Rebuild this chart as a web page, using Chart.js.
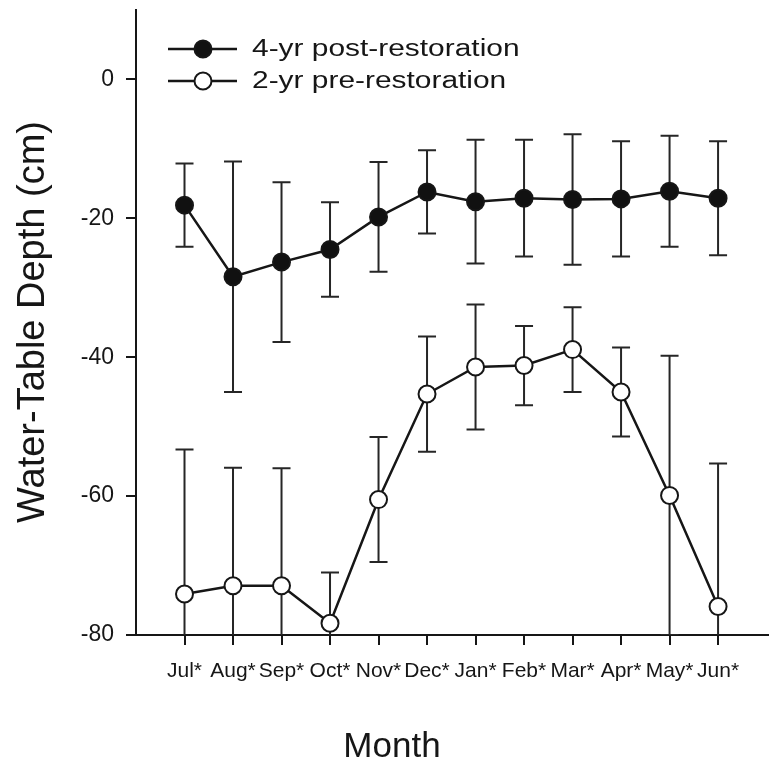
<!DOCTYPE html>
<html>
<head>
<meta charset="utf-8">
<script src="https://cdn.jsdelivr.net/npm/chart.js@4.4.1/dist/chart.umd.min.js"></script>
<style>
  html, body { margin: 0; padding: 0; background: #fff; }
  #wrap { width: 769px; height: 763px; }
</style>
</head>
<body>
<div id="wrap"><canvas id="chart" width="769" height="763"></canvas></div>
<script>
// month categories (x positions are 1..12 on a linear axis)
const months = ['Jul*', 'Aug*', 'Sep*', 'Oct*', 'Nov*', 'Dec*', 'Jan*', 'Feb*', 'Mar*', 'Apr*', 'May*', 'Jun*'];

// 4-yr post-restoration: mean and +/- error
const postMean = [-18.1, -28.4, -26.3, -24.5, -19.8, -16.2, -17.6, -17.1, -17.3, -17.2, -16.1, -17.1];
const postErr  = [6.0, 16.6, 11.5, 6.8, 7.9, 6.0, 8.9, 8.4, 9.4, 8.3, 8.0, 8.2];

// 2-yr pre-restoration: mean and +/- error
const preMean = [-74.1, -72.9, -72.9, -78.3, -60.5, -45.3, -41.4, -41.2, -38.9, -45.0, -59.9, -75.9];
const preErr  = [20.8, 17.0, 16.9, 7.3, 9.0, 8.3, 9.0, 5.7, 6.1, 6.4, 20.1, 20.6];

const yTicks = [0, -20, -40, -60, -80];

const ink = '#161616';
const font = 'Arial, "Liberation Sans", Helvetica, sans-serif';

const toPoints = (arr) => arr.map((v, i) => ({ x: i + 1, y: v }));

// vertical error bars with caps, drawn under lines and points
const errorBars = {
    id: 'errorBars',
    beforeDatasetsDraw(chart) {
        const { ctx, chartArea } = chart;
        const xs = chart.scales.x, ys = chart.scales.y;
        ctx.save();
        ctx.beginPath();
        ctx.rect(chartArea.left, chartArea.top, chartArea.width, chartArea.height);
        ctx.clip();
        ctx.strokeStyle = '#262626';
        ctx.lineWidth = 2;
        chart.data.datasets.forEach(ds => {
            ds.data.forEach((p, i) => {
                const e = ds.errors[i];
                const px = xs.getPixelForValue(p.x);
                const top = ys.getPixelForValue(p.y + e);
                const bot = ys.getPixelForValue(p.y - e);
                ctx.beginPath();
                ctx.moveTo(px, top); ctx.lineTo(px, bot);
                ctx.moveTo(px - 9, top); ctx.lineTo(px + 9, top);
                ctx.moveTo(px - 9, bot); ctx.lineTo(px + 9, bot);
                ctx.stroke();
            });
        });
        ctx.restore();
    }
};

// axis titles and the in-plot legend
const labels = {
    id: 'labels',
    afterDraw(chart) {
        const ctx = chart.ctx;
        ctx.save();
        ctx.fillStyle = ink;

        // y title
        ctx.save();
        ctx.translate(44, 322);
        ctx.rotate(-Math.PI / 2);
        ctx.font = '38px ' + font;
        ctx.textAlign = 'center';
        ctx.textBaseline = 'alphabetic';
        ctx.fillText('Water-Table Depth (cm)', 0, 0);
        ctx.restore();

        // x title
        ctx.font = '35px ' + font;
        ctx.textAlign = 'center';
        ctx.textBaseline = 'alphabetic';
        ctx.fillText('Month', 392, 757);

        // legend (text is a little wider than tall in the original)
        const rows = [49, 81];
        chart.data.datasets.forEach((ds, i) => {
            const y = rows[i];
            ctx.strokeStyle = ink;
            ctx.lineWidth = 2.5;
            ctx.beginPath();
            ctx.moveTo(168, y); ctx.lineTo(237, y);
            ctx.stroke();
            ctx.beginPath();
            ctx.arc(203, y, 8.5, 0, Math.PI * 2);
            ctx.fillStyle = ds.pointBackgroundColor;
            ctx.fill();
            ctx.lineWidth = 2;
            ctx.stroke();
            ctx.save();
            ctx.translate(252, y + 1);
            ctx.scale(1.3, 1);
            ctx.fillStyle = ink;
            ctx.font = '23px ' + font;
            ctx.textAlign = 'left';
            ctx.textBaseline = 'middle';
            ctx.fillText(ds.label, 0, 0);
            ctx.restore();
        });
        ctx.restore();
    }
};

new Chart(document.getElementById('chart'), {
    type: 'line',
    data: {
        datasets: [
            {
                label: '4-yr post-restoration',
                data: toPoints(postMean),
                errors: postErr,
                borderColor: ink,
                borderWidth: 2.5,
                pointRadius: 8.5,
                pointBackgroundColor: '#111111',
                pointBorderColor: ink,
                pointBorderWidth: 2,
                tension: 0,
            },
            {
                label: '2-yr pre-restoration',
                data: toPoints(preMean),
                errors: preErr,
                borderColor: ink,
                borderWidth: 2.5,
                pointRadius: 8.5,
                pointBackgroundColor: '#ffffff',
                pointBorderColor: ink,
                pointBorderWidth: 2,
                tension: 0,
            }
        ]
    },
    options: {
        responsive: false,
        animation: false,
        events: [],
        layout: { autoPadding: false, padding: { top: 10, right: 0, bottom: 0, left: 0 } },
        plugins: {
            legend: { display: false },
            tooltip: { enabled: false },
        },
        scales: {
            x: {
                type: 'linear',
                min: 0,
                max: 13.05,
                afterBuildTicks: (scale) => {
                    scale.ticks = months.map((m, i) => ({ value: i + 1 }));
                },
                afterFit: (scale) => {
                    scale.height = 128;
                    scale.paddingLeft = 0;
                    scale.paddingRight = 0;
                },
                ticks: {
                    autoSkip: false,
                    maxRotation: 0,
                    padding: 14,
                    color: ink,
                    font: { family: font, size: 21 },
                    callback: (v) => months[v - 1],
                },
                grid: { drawOnChartArea: false, drawTicks: true, tickLength: 10, color: ink, lineWidth: 2 },
                border: { display: true, color: ink, width: 2 },
            },
            y: {
                type: 'linear',
                min: -80,
                max: 10,
                afterBuildTicks: (scale) => {
                    scale.ticks = yTicks.map(v => ({ value: v }));
                },
                afterFit: (scale) => {
                    scale.width = 136;
                    scale.paddingTop = 0;
                    scale.paddingBottom = 0;
                },
                ticks: {
                    padding: 12,
                    color: ink,
                    font: { family: font, size: 23 },
                },
                grid: { drawOnChartArea: false, drawTicks: true, tickLength: 10, color: ink, lineWidth: 2 },
                border: { display: true, color: ink, width: 2 },
            }
        }
    },
    plugins: [errorBars, labels]
});
</script>
</body>
</html>
